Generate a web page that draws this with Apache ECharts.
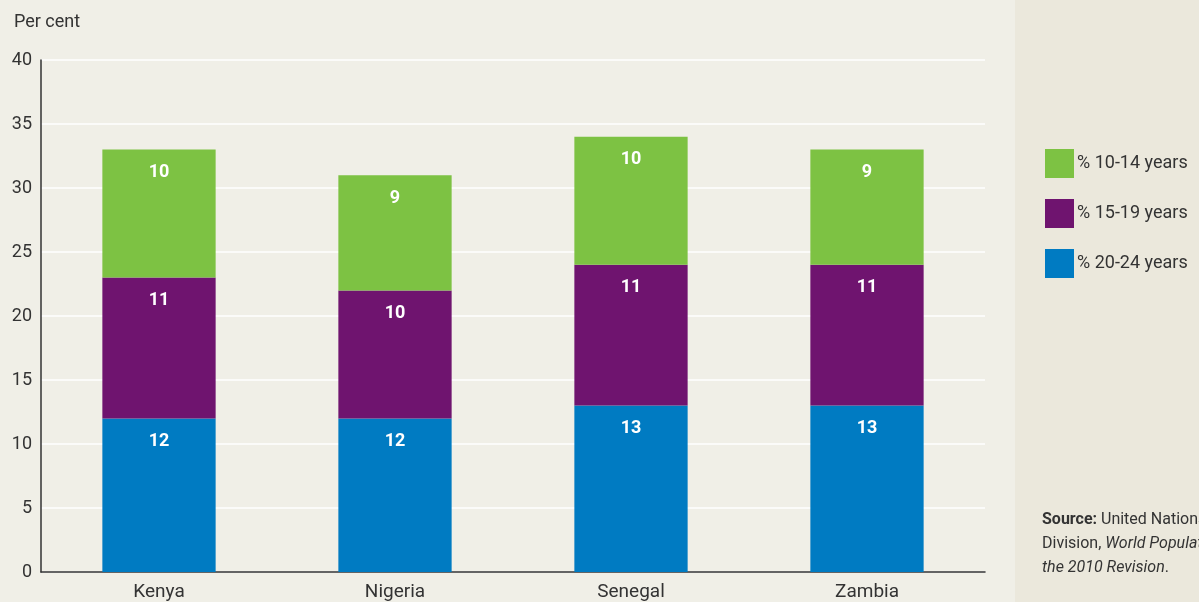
<!DOCTYPE html>
<html>
<head>
<meta charset="utf-8">
<script src="https://cdn.jsdelivr.net/npm/echarts@6/dist/echarts.min.js"></script>
<style>
  html, body { margin: 0; padding: 0; background: #f0efe7; }
  #main { width: 1199px; height: 602px; }
</style>
</head>
<body>
<div id="main"></div>
<script>
// data
var countries = ['Kenya', 'Nigeria', 'Senegal', 'Zambia'];
var age20to24 = [12, 12, 13, 13];
var age15to19 = [11, 10, 11, 11];
var age10to14 = [10, 9, 10, 9];
var yTicks = [0, 5, 10, 15, 20, 25, 30, 35, 40];

var font = "'Liberation Sans Narrow', 'Roboto', sans-serif";

var chart = echarts.init(document.getElementById('main'));

function barLabel() {
    return {
        show: true,
        position: 'insideTop',
        distance: 14,
        color: '#fff',
        fontSize: 18,
        fontWeight: 'bold',
        fontFamily: font
    };
}

var option = {
    backgroundColor: '#f0efe7',
    animation: false,
    grid: {
        left: 41,
        right: 214,
        top: 60,
        bottom: 30
    },
    legend: {
        orient: 'vertical',
        left: 1040,
        top: 144,
        itemWidth: 29,
        itemHeight: 29,
        itemGap: 21,
        icon: 'rect',
        data: ['% 10-14 years', '% 15-19 years', '% 20-24 years'],
        textStyle: {
            color: '#333',
            fontSize: 18,
            fontFamily: font,
            padding: [0, 0, 0, -2]
        }
    },
    xAxis: {
        type: 'category',
        data: countries,
        axisTick: { show: false },
        axisLine: { lineStyle: { color: '#333', width: 1.5 } },
        axisLabel: { color: '#333', fontSize: 19, fontFamily: font, margin: 11 }
    },
    yAxis: {
        type: 'value',
        min: yTicks[0],
        max: yTicks[yTicks.length - 1],
        interval: 5,
        axisLine: { show: true, lineStyle: { color: '#333', width: 1.5 } },
        axisTick: { show: false },
        axisLabel: { color: '#333', fontSize: 18, fontFamily: font, margin: 9 },
        splitLine: { lineStyle: { color: '#ffffff', width: 1.5 } }
    },
    graphic: [
        {
            type: 'rect',
            left: 1015,
            top: 0,
            z: -10,
            shape: { width: 184, height: 602 },
            style: { fill: '#ebe8dc' }
        },
        {
            type: 'text',
            left: 14,
            top: 13,
            style: {
                text: 'Per cent',
                fill: '#333',
                fontSize: 18,
                fontFamily: font
            }
        },
        {
            type: 'text',
            left: 1042,
            top: 508,
            style: {
                text: '{b|Source:} United Nations Population\nDivision, {i|World Population Prospects:}\n{i|the 2010 Revision}.',
                fill: '#333',
                fontSize: 16,
                lineHeight: 24,
                fontFamily: font,
                rich: {
                    b: { fontWeight: 'bold', fontSize: 16, fontFamily: font, fill: '#333' },
                    i: { fontStyle: 'italic', fontSize: 16, fontFamily: font, fill: '#333' }
                }
            }
        }
    ],
    series: [
        {
            name: '% 20-24 years',
            type: 'bar',
            stack: 'total',
            barWidth: '48%',
            itemStyle: { color: '#007bc2' },
            label: barLabel(),
            data: age20to24
        },
        {
            name: '% 15-19 years',
            type: 'bar',
            stack: 'total',
            itemStyle: { color: '#6f146f' },
            label: barLabel(),
            data: age15to19
        },
        {
            name: '% 10-14 years',
            type: 'bar',
            stack: 'total',
            itemStyle: { color: '#7dc243' },
            label: barLabel(),
            data: age10to14
        }
    ]
};
chart.setOption(option);
</script>
</body>
</html>
